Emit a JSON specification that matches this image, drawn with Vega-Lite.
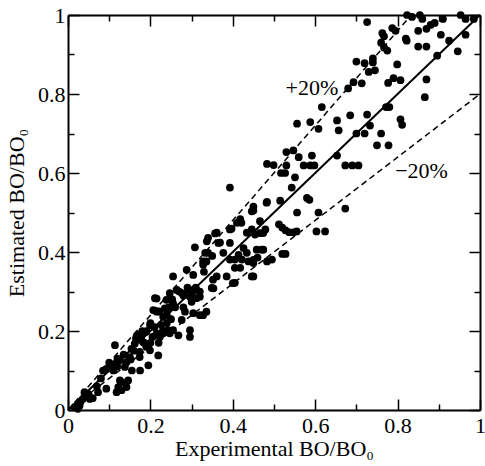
{
  "$schema": "https://vega.github.io/schema/vega-lite/v6.json",
  "autosize": {"type": "none"},
  "width": 412,
  "height": 395,
  "padding": {"left": 68, "top": 15, "right": 5, "bottom": 56},
  "background": "white",
  "config": {
    "view": {"stroke": null},
    "axis": {
      "domainColor": "black", "domainWidth": 2,
      "tickColor": "black", "tickWidth": 1.5,
      "labelFont": "Liberation Serif", "labelFontSize": 22, "labelColor": "black",
      "titleFont": "Liberation Serif", "titleFontSize": 22, "titleFontWeight": "normal", "titleColor": "black",
      "grid": false
    }
  },
  "layer": [
    {
      "data": {"values": [{"x": 0, "y": 0, "x2": 1, "y2": 1}]},
      "mark": {"type": "rule", "color": "black", "strokeWidth": 2},
      "encoding": {
        "x": {"field": "x", "type": "quantitative", "scale": {"domain": [0, 1], "nice": false},
          "axis": {"orient": "top", "values": [0,0.1,0.2,0.3,0.4,0.5,0.6,0.7,0.8,0.9,1], "labels": false, "title": null,
            "tickSize": {"condition": {"test": "round(datum.value*10)%2==0", "value": -11}, "value": -6}}},
        "y": {"field": "y", "type": "quantitative", "scale": {"domain": [0, 1], "nice": false},
          "axis": {"orient": "right", "values": [0,0.1,0.2,0.3,0.4,0.5,0.6,0.7,0.8,0.9,1], "labels": false, "title": null,
            "tickSize": {"condition": {"test": "round(datum.value*10)%2==0", "value": -11}, "value": -6}}},
        "x2": {"field": "x2"},
        "y2": {"field": "y2"}
      }
    },
    {
      "data": {"values": [{"x": 0, "y": 0, "x2": 0.8333, "y2": 1}, {"x": 0, "y": 0, "x2": 1, "y2": 0.8}]},
      "mark": {"type": "rule", "color": "black", "strokeWidth": 1.5, "strokeDash": [6, 4]},
      "encoding": {
        "x": {"field": "x", "type": "quantitative", "axis": null},
        "y": {"field": "y", "type": "quantitative", "axis": null},
        "x2": {"field": "x2"},
        "y2": {"field": "y2"}
      }
    },
    {
      "data": {"values": [
        {"x":0.726,"y":0.982},{"x":0.823,"y":1.0},{"x":0.835,"y":0.995},{"x":0.854,"y":1.0},{"x":0.86,"y":0.99},
        {"x":0.88,"y":0.975},{"x":0.89,"y":0.98},{"x":0.91,"y":0.99},{"x":0.953,"y":1.0},{"x":0.965,"y":0.99},
        {"x":0.985,"y":0.99},{"x":0.85,"y":0.96},{"x":0.87,"y":0.965},{"x":0.82,"y":0.94},{"x":0.822,"y":0.935},
        {"x":0.905,"y":0.95},{"x":0.965,"y":0.95},{"x":0.85,"y":0.92},{"x":0.87,"y":0.92},{"x":0.925,"y":0.935},
        {"x":0.946,"y":0.908},{"x":0.896,"y":0.897},{"x":0.787,"y":0.967},{"x":0.795,"y":0.96},{"x":0.763,"y":0.954},
        {"x":0.767,"y":0.946},{"x":0.76,"y":0.93},{"x":0.767,"y":0.918},{"x":0.775,"y":0.91},{"x":0.74,"y":0.89},
        {"x":0.74,"y":0.88},{"x":0.72,"y":0.878},{"x":0.70,"y":0.882},{"x":0.73,"y":0.856},{"x":0.745,"y":0.86},
        {"x":0.799,"y":0.875},{"x":0.79,"y":0.84},{"x":0.807,"y":0.835},{"x":0.777,"y":0.828},{"x":0.87,"y":0.837},
        {"x":0.866,"y":0.792},{"x":0.693,"y":0.83},{"x":0.713,"y":0.827},{"x":0.68,"y":0.814},{"x":0.616,"y":0.767},
        {"x":0.685,"y":0.746},{"x":0.726,"y":0.748},{"x":0.733,"y":0.72},{"x":0.772,"y":0.767},{"x":0.78,"y":0.767},
        {"x":0.807,"y":0.736},{"x":0.811,"y":0.722},{"x":0.70,"y":0.70},{"x":0.72,"y":0.70},{"x":0.76,"y":0.70},
        {"x":0.75,"y":0.67},{"x":0.778,"y":0.67},{"x":0.653,"y":0.733},{"x":0.657,"y":0.708},{"x":0.608,"y":0.712},
        {"x":0.588,"y":0.729},{"x":0.556,"y":0.725},{"x":0.653,"y":0.644},{"x":0.673,"y":0.619},{"x":0.69,"y":0.619},
        {"x":0.705,"y":0.619},{"x":0.673,"y":0.51},{"x":0.608,"y":0.50},{"x":0.603,"y":0.452},{"x":0.624,"y":0.452},
        {"x":0.53,"y":0.653},{"x":0.547,"y":0.657},{"x":0.56,"y":0.64},{"x":0.572,"y":0.619},{"x":0.588,"y":0.619},
        {"x":0.598,"y":0.619},{"x":0.592,"y":0.644},{"x":0.53,"y":0.619},{"x":0.527,"y":0.60},{"x":0.517,"y":0.60},
        {"x":0.483,"y":0.623},{"x":0.499,"y":0.62},{"x":0.551,"y":0.589},{"x":0.543,"y":0.563},{"x":0.515,"y":0.53},
        {"x":0.483,"y":0.527},{"x":0.58,"y":0.537},{"x":0.586,"y":0.532},{"x":0.556,"y":0.50},{"x":0.512,"y":0.47},
        {"x":0.52,"y":0.462},{"x":0.528,"y":0.455},{"x":0.537,"y":0.45},{"x":0.547,"y":0.45},{"x":0.555,"y":0.452},
        {"x":0.52,"y":0.395},{"x":0.528,"y":0.395},{"x":0.393,"y":0.563},{"x":0.45,"y":0.515},{"x":0.45,"y":0.505},
        {"x":0.418,"y":0.483},{"x":0.41,"y":0.474},{"x":0.434,"y":0.449},{"x":0.446,"y":0.457},{"x":0.466,"y":0.478},
        {"x":0.479,"y":0.457},{"x":0.454,"y":0.444},{"x":0.393,"y":0.457},{"x":0.361,"y":0.449},{"x":0.34,"y":0.436},
        {"x":0.308,"y":0.412},{"x":0.333,"y":0.398},{"x":0.34,"y":0.398},{"x":0.328,"y":0.376},{"x":0.336,"y":0.376},
        {"x":0.365,"y":0.423},{"x":0.393,"y":0.423},{"x":0.377,"y":0.398},{"x":0.393,"y":0.381},{"x":0.405,"y":0.381},
        {"x":0.414,"y":0.393},{"x":0.426,"y":0.41},{"x":0.434,"y":0.398},{"x":0.422,"y":0.381},{"x":0.405,"y":0.36},
        {"x":0.418,"y":0.36},{"x":0.438,"y":0.376},{"x":0.45,"y":0.372},{"x":0.45,"y":0.338},{"x":0.40,"y":0.321},
        {"x":0.458,"y":0.406},{"x":0.474,"y":0.406},{"x":0.483,"y":0.376},{"x":0.495,"y":0.381},{"x":0.361,"y":0.338},
        {"x":0.353,"y":0.308},{"x":0.288,"y":0.355},{"x":0.304,"y":0.342},{"x":0.255,"y":0.338},{"x":0.292,"y":0.304},
        {"x":0.304,"y":0.304},{"x":0.312,"y":0.304},{"x":0.32,"y":0.30},{"x":0.296,"y":0.287},{"x":0.312,"y":0.283},
        {"x":0.300,"y":0.274},{"x":0.32,"y":0.287},{"x":0.264,"y":0.304},{"x":0.276,"y":0.296},{"x":0.247,"y":0.296},
        {"x":0.284,"y":0.249},{"x":0.304,"y":0.245},{"x":0.32,"y":0.24},{"x":0.328,"y":0.24},{"x":0.336,"y":0.249},
        {"x":0.276,"y":0.228},{"x":0.296,"y":0.202},{"x":0.296,"y":0.185},{"x":0.268,"y":0.189},{"x":0.255,"y":0.202},
        {"x":0.243,"y":0.202},{"x":0.247,"y":0.194},{"x":0.255,"y":0.27},{"x":0.239,"y":0.279},{"x":0.235,"y":0.257},
        {"x":0.243,"y":0.257},{"x":0.211,"y":0.283},{"x":0.207,"y":0.253},{"x":0.215,"y":0.249},{"x":0.223,"y":0.249},
        {"x":0.231,"y":0.236},{"x":0.227,"y":0.215},{"x":0.215,"y":0.194},{"x":0.223,"y":0.185},{"x":0.231,"y":0.194},
        {"x":0.19,"y":0.198},{"x":0.199,"y":0.215},{"x":0.178,"y":0.185},{"x":0.182,"y":0.172},{"x":0.19,"y":0.16},
        {"x":0.199,"y":0.151},{"x":0.166,"y":0.185},{"x":0.162,"y":0.168},{"x":0.154,"y":0.155},{"x":0.174,"y":0.147},
        {"x":0.174,"y":0.134},{"x":0.195,"y":0.113},{"x":0.219,"y":0.138},{"x":0.15,"y":0.134},{"x":0.152,"y":0.128},
        {"x":0.142,"y":0.121},{"x":0.138,"y":0.109},{"x":0.126,"y":0.126},{"x":0.114,"y":0.117},{"x":0.101,"y":0.113},
        {"x":0.093,"y":0.104},{"x":0.085,"y":0.10},{"x":0.114,"y":0.164},{"x":0.126,"y":0.075},{"x":0.122,"y":0.058},
        {"x":0.118,"y":0.045},{"x":0.146,"y":0.075},{"x":0.142,"y":0.058},{"x":0.093,"y":0.054},{"x":0.073,"y":0.045},
        {"x":0.053,"y":0.028},{"x":0.036,"y":0.028},{"x":0.028,"y":0.011},{"x":0.024,"y":0.003},{"x":0.016,"y":0.007},
        {"x":0.04,"y":0.045},{"x":0.06,"y":0.03},{"x":0.215,"y":0.282},{"x":0.27,"y":0.3},{"x":0.28,"y":0.29},
        {"x":0.30,"y":0.29},{"x":0.253,"y":0.28},{"x":0.245,"y":0.26},{"x":0.22,"y":0.25},{"x":0.2,"y":0.22},
        {"x":0.19,"y":0.2},{"x":0.17,"y":0.19},{"x":0.165,"y":0.18},{"x":0.18,"y":0.2},{"x":0.22,"y":0.19},
        {"x":0.23,"y":0.2},{"x":0.22,"y":0.17},{"x":0.21,"y":0.21},{"x":0.24,"y":0.22},{"x":0.25,"y":0.23},
        {"x":0.155,"y":0.1},{"x":0.175,"y":0.1},{"x":0.13,"y":0.07},{"x":0.13,"y":0.05},{"x":0.106,"y":0.11},
        {"x":0.12,"y":0.13},{"x":0.135,"y":0.14},{"x":0.16,"y":0.15},{"x":0.2,"y":0.17},{"x":0.205,"y":0.185},
        {"x":0.185,"y":0.17},{"x":0.24,"y":0.24},{"x":0.26,"y":0.26},{"x":0.28,"y":0.26},{"x":0.29,"y":0.31},
        {"x":0.31,"y":0.31},{"x":0.33,"y":0.35},{"x":0.35,"y":0.39},{"x":0.328,"y":0.368},{"x":0.349,"y":0.309},
        {"x":0.352,"y":0.33},{"x":0.385,"y":0.338},{"x":0.405,"y":0.322},{"x":0.446,"y":0.338},{"x":0.45,"y":0.38},
        {"x":0.46,"y":0.386},{"x":0.47,"y":0.406},{"x":0.466,"y":0.448},{"x":0.474,"y":0.448},{"x":0.446,"y":0.503},
        {"x":0.482,"y":0.525},{"x":0.421,"y":0.474},{"x":0.397,"y":0.459},{"x":0.369,"y":0.424},{"x":0.357,"y":0.447},
        {"x":0.337,"y":0.427},{"x":0.1,"y":0.12},{"x":0.11,"y":0.1},{"x":0.12,"y":0.11},{"x":0.05,"y":0.04},
        {"x":0.07,"y":0.06},{"x":0.08,"y":0.08},{"x":0.03,"y":0.02}
      ]},
      "mark": {"type": "circle", "color": "black", "opacity": 1, "size": 60},
      "encoding": {
        "x": {"field": "x", "type": "quantitative",
          "axis": {"orient": "bottom", "values": [0,0.1,0.2,0.3,0.4,0.5,0.6,0.7,0.8,0.9,1],
            "labelExpr": "round(datum.value*10)%2==0 ? format(datum.value, '~g') : ''",
            "tickSize": {"condition": {"test": "round(datum.value*10)%2==0", "value": -11}, "value": -6},
            "labelPadding": 16, "labelFlush": false,
            "title": "Experimental BO/BO₀", "titlePadding": 2}},
        "y": {"field": "y", "type": "quantitative",
          "axis": {"orient": "left", "values": [0,0.1,0.2,0.3,0.4,0.5,0.6,0.7,0.8,0.9,1],
            "labelExpr": "round(datum.value*10)%2==0 ? format(datum.value, '~g') : ''",
            "tickSize": {"condition": {"test": "round(datum.value*10)%2==0", "value": -11}, "value": -6},
            "labelPadding": 14, "labelFlush": false,
            "title": "Estimated BO/BO₀", "titlePadding": 9}}
      }
    },
    {
      "data": {"values": [{"x": 0.592, "y": 0.815, "label": "+20%"}, {"x": 0.858, "y": 0.605, "label": "−20%"}]},
      "mark": {"type": "text", "font": "Liberation Serif", "fontSize": 22, "color": "black", "align": "center", "baseline": "middle"},
      "encoding": {
        "x": {"field": "x", "type": "quantitative", "axis": null},
        "y": {"field": "y", "type": "quantitative", "axis": null},
        "text": {"field": "label"}
      }
    }
  ],
  "resolve": {"axis": {"x": "independent", "y": "independent"}}
}
